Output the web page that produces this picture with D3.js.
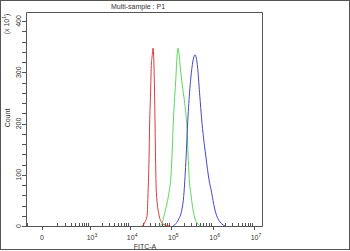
<!DOCTYPE html>
<html>
<head>
<meta charset="utf-8">
<script src="https://cdn.jsdelivr.net/npm/d3@7"></script>
<style>
  body { margin: 0; background: #fff; }
  svg { display: block; font-family: "Liberation Sans", Arial, sans-serif; }
  .frame { fill: none; stroke: #555; stroke-width: 1; }
  .ax { stroke: #555; stroke-width: 1; fill: none; }
  .lbl { fill: #333; font-size: 7px; }
  .curve { fill: none; stroke-width: 1; }
</style>
</head>
<body>
<svg id="chart" width="350" height="251"></svg>
<script>
// ── Data: FITC-A intensity vs count (x10) ──
const seriesNames = ["control", "sample1", "sample2"];
const seriesColors = ["#d83c3c", "#5ad85a", "#4646c8"];

const redData = [
  [1.95e4, 0], [2.31e4, 8], [2.58e4, 21], [2.73e4, 66], [2.88e4, 133], [2.97e4, 197],
  [3.14e4, 260], [3.28e4, 318], [3.41e4, 330], [3.61e4, 347], [3.77e4, 320], [3.92e4, 260],
  [4.03e4, 197], [4.14e4, 133], [4.33e4, 66], [5.04e4, 21], [5.95e4, 6], [7.44e4, 1], [8.80e4, 0]
];
const greenData = [
  [5.04e4, 0], [5.95e4, 5], [6.66e4, 21], [7.87e4, 45], [8.80e4, 66], [9.83e4, 100],
  [1.04e5, 140], [1.10e5, 190], [1.17e5, 235], [1.28e5, 285], [1.37e5, 330], [1.45e5, 347],
  [1.54e5, 335], [1.64e5, 310], [1.84e5, 275], [2.20e5, 226], [2.40e5, 190], [2.54e5, 140],
  [2.70e5, 95], [3.00e5, 60], [3.55e5, 21], [4.19e5, 6], [4.95e5, 0]
];
const blueData = [
  [1.10e5, 0], [1.30e5, 5], [1.54e5, 15], [1.72e5, 25], [2.03e5, 66], [2.27e5, 133],
  [2.47e5, 197], [2.76e5, 260], [3.17e5, 310], [3.75e5, 334], [4.31e5, 310], [4.82e5, 260],
  [5.54e5, 200], [6.92e5, 133], [8.18e5, 90], [9.41e5, 66], [1.11e6, 35], [1.24e6, 21],
  [1.51e6, 8], [1.89e6, 1], [2.11e6, 0]
];

const yTicks = [0, 100, 200, 300, 400];
const yMinor = d3.range(0, 420, 20);
const xMajor = [0, 1e3, 1e4, 1e5, 1e6, 1e7];
const xMajorExp = ["", "3", "4", "5", "6", "7"];
const xMinor = [-100].concat(d3.range(100, 1000, 100),
  ...[1e3, 1e4, 1e5, 1e6].map(k => d3.range(2, 10).map(m => m * k)));

// ── Layout ──
const plotL = 26, plotR = 262, plotT = 12, plotB = 226;
const svg = d3.select("#chart");

const x = d3.scaleSymlog().constant(74).domain([-106.6, 1.566e7]).range([plotL, plotR]);
const y = d3.scaleLinear().domain([0, 400]).range([plotB, plotB - 205]);

// outer border
svg.append("rect").attr("class", "frame")
  .attr("x", 0.5).attr("y", 0.5).attr("width", 349).attr("height", 249);

// plot box
svg.append("path").attr("class", "ax")
  .attr("d", `M${plotL + 0.5},${plotB + 0.5}V${plotT + 0.5}H${plotR + 0.5}V${plotB + 0.5}`);
svg.append("line").attr("class", "ax")
  .attr("x1", plotL - 4).attr("x2", plotR + 0.5)
  .attr("y1", plotB + 0.5).attr("y2", plotB + 0.5);

// ── Y axis ticks ──
svg.selectAll(".ytick").data(yMinor).join("line")
  .attr("class", "ax")
  .attr("x1", plotL - 4).attr("x2", plotL)
  .attr("y1", d => Math.round(y(d)) + 0.5).attr("y2", d => Math.round(y(d)) + 0.5);

svg.selectAll(".ylbl").data(yTicks).join("text")
  .attr("class", "lbl")
  .attr("text-anchor", "middle")
  .attr("transform", d => `translate(21,${y(d)}) rotate(-90)`)
  .text(d => d);

// ── X axis ticks ──
svg.selectAll(".xminor").data(xMinor).join("line")
  .attr("class", "ax")
  .attr("x1", d => Math.round(x(d)) + 0.5).attr("x2", d => Math.round(x(d)) + 0.5)
  .attr("y1", plotB - 3).attr("y2", plotB);

svg.selectAll(".xmajor").data(xMajor).join("line")
  .attr("class", "ax")
  .attr("x1", d => Math.round(x(d)) + 0.5).attr("x2", d => Math.round(x(d)) + 0.5)
  .attr("y1", plotB).attr("y2", plotB + 4);

const xl = svg.selectAll(".xlbl").data(xMajor).join("text")
  .attr("class", "lbl")
  .attr("text-anchor", "middle")
  .attr("x", (d, i) => x(d) + (i ? 2 : 0))
  .attr("y", 240);
xl.each(function (d, i) {
  const t = d3.select(this);
  if (i === 0) { t.text("0"); return; }
  t.append("tspan").text("10");
  t.append("tspan").attr("dy", -3).attr("font-size", "5px").text(xMajorExp[i]);
});

// ── Axis titles ──
svg.append("text").attr("class", "lbl")
  .attr("text-anchor", "middle").attr("x", 145).attr("y", 249)
  .text("FITC-A");

svg.append("text").attr("class", "lbl")
  .attr("text-anchor", "middle")
  .attr("transform", "translate(10,118) rotate(-90)")
  .text("Count");

const mult = svg.append("text").attr("class", "lbl")
  .attr("text-anchor", "middle")
  .attr("transform", "translate(9,24) rotate(-90)");
mult.append("tspan").text("(x 10");
mult.append("tspan").attr("dy", -3).attr("font-size", "5px").text("1");
mult.append("tspan").attr("dy", 3).text(")");

svg.append("text").attr("class", "lbl")
  .attr("text-anchor", "middle").attr("x", 138).attr("y", 9)
  .attr("font-size", "7.5px")
  .text("Multi-sample : P1");

// ── Histogram curves ──
const line = d3.line()
  .x(d => x(d[0]))
  .y(d => y(d[1]))
  .curve(d3.curveMonotoneX);

[redData, greenData, blueData].forEach((data, i) => {
  svg.append("path")
    .attr("class", "curve")
    .attr("data-name", seriesNames[i])
    .attr("stroke", seriesColors[i])
    .attr("d", line(data));
});
</script>
</body>
</html>
